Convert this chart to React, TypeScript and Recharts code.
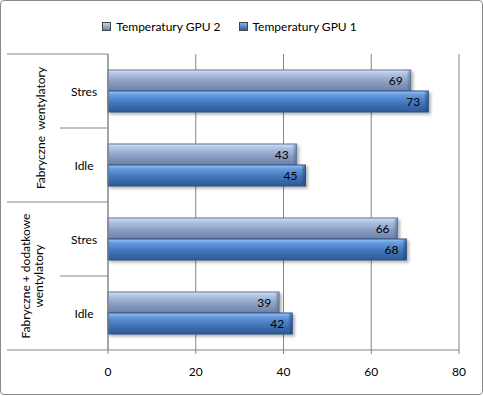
import React from 'react';
import { BarChart, Bar, XAxis, YAxis, CartesianGrid, Legend, LabelList } from 'recharts';

// values
const categories = ['Stres', 'Idle', 'Stres', 'Idle'];
const groupLabels = [['Fabryczne  wentylatory'], ['Fabryczne + dodatkowe', 'wentylatory']];
const gpu2 = [69, 43, 66, 39];
const gpu1 = [73, 45, 68, 42];
const xTicks = [0, 20, 40, 60, 80];
const seriesOrder = ['gpu2', 'gpu1'];

const data = categories.map((c, i) => ({ key: `${c}-${i}`, cat: c, gpu2: gpu2[i], gpu1: gpu1[i] }));

const FONT = 'Lato, "Open Sans", sans-serif';
const GRID = '#868686';
const W = 483;
const H = 396;
const MARGIN = { top: 54, right: 24, bottom: 16, left: 7 };
const BAND = (H - MARGIN.top - MARGIN.bottom - 30) / categories.length;

const YTick = (props: any) => {
  const { x, y, payload } = props;
  const i = payload.index;
  const bottom = y + BAND / 2;
  const isGroupEnd = i % 2 === 1;
  const lines = i % 2 === 0 ? groupLabels[i / 2] : null;
  return (
    <g>
      <text x={x - 24} y={y} textAnchor="middle" dominantBaseline="central" fontFamily={FONT} fontSize={12} fill="#000">
        {payload.value}
      </text>
      {i === 0 && <line x1={7} x2={x} y1={y - BAND / 2} y2={y - BAND / 2} stroke={GRID} />}
      <line x1={isGroupEnd ? 7 : x - 48} x2={x} y1={bottom} y2={bottom} stroke={GRID} />
      {lines &&
        lines.map((t, k) => {
          const cx = lines.length === 1 ? 40 : 25 + k * 13;
          return (
            <text
              key={k}
              x={cx}
              y={bottom}
              transform={`rotate(-90 ${cx} ${bottom})`}
              textAnchor="middle"
              dominantBaseline="central"
              fontFamily={FONT}
              fontSize={12}
              fill="#000"
              style={{ whiteSpace: 'pre' }}
            >
              {t}
            </text>
          );
        })}
    </g>
  );
};

const BarShape = (props: any) => {
  const { x, y, width, height } = props;
  const id = props.dataKey;
  if (width <= 0) return null;
  return (
    <g filter="url(#shadow)">
      <rect x={x} y={y} width={width} height={height} fill={`url(#grad-${id})`} stroke={id === 'gpu1' ? '#284f84' : '#5f7497'} strokeWidth={1} />
      <rect x={x + width - 4} y={y + 0.5} width={3.5} height={height - 1} fill={`url(#bevel-${id})`} />
    </g>
  );
};

const legendColors: Record<string, [string, string]> = {
  gpu2: ['#c2d3ee', '#7084a8'],
  gpu1: ['#7fb0ef', '#2f5f9d'],
};

const renderLegend = (props: any) => {
  const items = [...props.payload].sort(
    (a: any, b: any) => seriesOrder.indexOf(a.dataKey) - seriesOrder.indexOf(b.dataKey)
  );
  return (
    <div
      style={{
        position: 'absolute',
        top: 0,
        left: -12,
        width: W,
        display: 'flex',
        justifyContent: 'center',
        gap: 18,
        fontFamily: FONT,
        fontSize: 12,
        color: '#000',
      }}
    >
      {items.map((e: any) => (
        <span key={e.dataKey} style={{ display: 'inline-flex', alignItems: 'center', gap: 5 }}>
          <span
            style={{
              display: 'inline-block',
              width: 7,
              height: 7,
              border: '1px solid #444',
              background: `linear-gradient(${legendColors[e.dataKey][0]}, ${legendColors[e.dataKey][1]})`,
            }}
          />
          {e.value}
        </span>
      ))}
    </div>
  );
};

export default function App() {
  return (
    <div style={{ position: 'absolute', left: 0, top: 0, width: W, height: H }}>
      <div
        style={{
          position: 'absolute',
          left: 0,
          top: 0,
          width: 483,
          height: 395,
          boxSizing: 'border-box',
          border: '1px solid #8a8a8a',
          borderRadius: 4,
        }}
      />
      <BarChart width={W} height={H} data={data} layout="vertical" margin={MARGIN} barSize={21} barGap={0}>
        <defs>
          <linearGradient id="grad-gpu2" x1="0" y1="0" x2="0" y2="1">
            <stop offset="0" stopColor="#d5e3f6" />
            <stop offset="0.18" stopColor="#b0c3e3" />
            <stop offset="0.55" stopColor="#8ca0c5" />
            <stop offset="1" stopColor="#6c80a5" />
          </linearGradient>
          <linearGradient id="grad-gpu1" x1="0" y1="0" x2="0" y2="1">
            <stop offset="0" stopColor="#9cc5f6" />
            <stop offset="0.18" stopColor="#659be0" />
            <stop offset="0.55" stopColor="#4377bb" />
            <stop offset="1" stopColor="#2d5a96" />
          </linearGradient>
          <linearGradient id="bevel-gpu2" x1="0" y1="0" x2="1" y2="0">
            <stop offset="0" stopColor="#5f7497" stopOpacity={0.1} />
            <stop offset="1" stopColor="#4a5e80" stopOpacity={0.6} />
          </linearGradient>
          <linearGradient id="bevel-gpu1" x1="0" y1="0" x2="1" y2="0">
            <stop offset="0" stopColor="#1f4777" stopOpacity={0.1} />
            <stop offset="1" stopColor="#1a3d6a" stopOpacity={0.6} />
          </linearGradient>
          <filter id="shadow" x="-5%" y="-20%" width="115%" height="160%">
            <feDropShadow dx={2} dy={2} stdDeviation={1.5} floodColor="#000" floodOpacity={0.3} />
          </filter>
        </defs>
        <Legend verticalAlign="top" content={renderLegend} wrapperStyle={{ top: 19, left: 0, width: W }} />
        <CartesianGrid horizontal={false} stroke={GRID} />
        <XAxis
          type="number"
          domain={[0, 80]}
          ticks={xTicks}
          interval={0}
          height={30}
          tickSize={4}
          tickMargin={13}
          axisLine={{ stroke: GRID }}
          tickLine={{ stroke: GRID }}
          tick={{ fontFamily: FONT, fontSize: 12, fill: '#000' }}
        />
        <YAxis
          type="category"
          dataKey="cat"
          width={101}
          interval={0}
          tickSize={0}
          tickMargin={0}
          tickLine={false}
          axisLine={{ stroke: GRID }}
          tick={<YTick />}
        />
        <Bar dataKey="gpu2" name="Temperatury GPU 2" fill="#8ca0c5" shape={<BarShape dataKey="gpu2" />} isAnimationActive={false}>
          <LabelList dataKey="gpu2" position="insideRight" offset={8} fill="#000" fontFamily={FONT} fontSize={12} />
        </Bar>
        <Bar dataKey="gpu1" name="Temperatury GPU 1" fill="#4377bb" shape={<BarShape dataKey="gpu1" />} isAnimationActive={false}>
          <LabelList dataKey="gpu1" position="insideRight" offset={8} fill="#000" fontFamily={FONT} fontSize={12} />
        </Bar>
      </BarChart>
    </div>
  );
}
